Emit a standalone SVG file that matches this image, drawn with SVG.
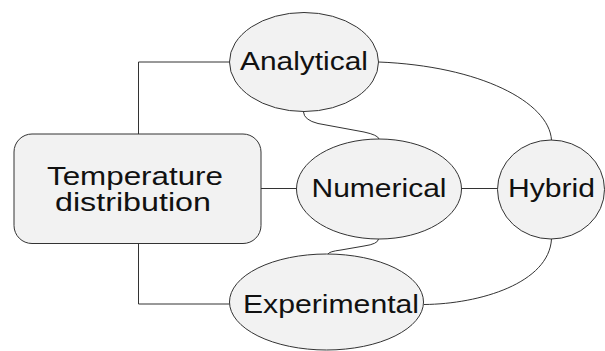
<svg xmlns="http://www.w3.org/2000/svg" width="605" height="351" viewBox="0 0 605 351">
  <style>
    .shape { fill: #f2f2f2; stroke: #333333; stroke-width: 1; }
    .edge { fill: none; stroke: #333333; stroke-width: 1; }
    .label { font-family: "Liberation Sans", Arial, sans-serif; font-size: 26px; fill: #111111; text-anchor: middle; }
  </style>
  <rect width="605" height="351" fill="#ffffff"/>

  <!-- connectors -->
  <g id="connectors">
    <polyline class="edge" points="138.5,134 138.5,62 229.5,62"/>
    <polyline class="edge" points="138.5,243.5 138.5,304 229.5,304"/>
    <line class="edge" x1="261" y1="188.5" x2="296.5" y2="188.5"/>
    <line class="edge" x1="461.5" y1="188.5" x2="497.5" y2="188.5"/>
    <path class="edge" d="M303.5,112 Q304,120 318,123.5 L364,132 Q378,135 379,139"/>
    <path class="edge" d="M378.5,239 Q378,244 364,246 L341,250 Q329,251.5 328,254"/>
    <path class="edge" d="M378.5,62 C480,66 549,102 551.5,140"/>
    <path class="edge" d="M551.5,239 C549,283 480,304 424,304.5"/>
  </g>

  <!-- nodes -->
  <g id="temperature">
    <rect class="shape" x="14" y="134" width="247" height="109.5" rx="18" ry="18"/>
    <text class="label" x="135" y="185" textLength="176" lengthAdjust="spacingAndGlyphs">Temperature</text>
    <text class="label" x="133" y="211" textLength="156" lengthAdjust="spacingAndGlyphs">distribution</text>
  </g>
  <g id="analytical">
    <ellipse class="shape" cx="304" cy="62" rx="74.5" ry="49.5"/>
    <text class="label" x="304" y="69.5" textLength="128" lengthAdjust="spacingAndGlyphs">Analytical</text>
  </g>
  <g id="numerical">
    <ellipse class="shape" cx="379" cy="189" rx="82.5" ry="50"/>
    <text class="label" x="379" y="196.5" textLength="135" lengthAdjust="spacingAndGlyphs">Numerical</text>
  </g>
  <g id="hybrid">
    <ellipse class="shape" cx="551" cy="189.5" rx="53.5" ry="49.5"/>
    <text class="label" x="551.5" y="196.5" textLength="87" lengthAdjust="spacingAndGlyphs">Hybrid</text>
  </g>
  <g id="experimental">
    <ellipse class="shape" cx="326.5" cy="302" rx="97" ry="48"/>
    <text class="label" x="331" y="312.5" textLength="176" lengthAdjust="spacingAndGlyphs">Experimental</text>
  </g>
</svg>
